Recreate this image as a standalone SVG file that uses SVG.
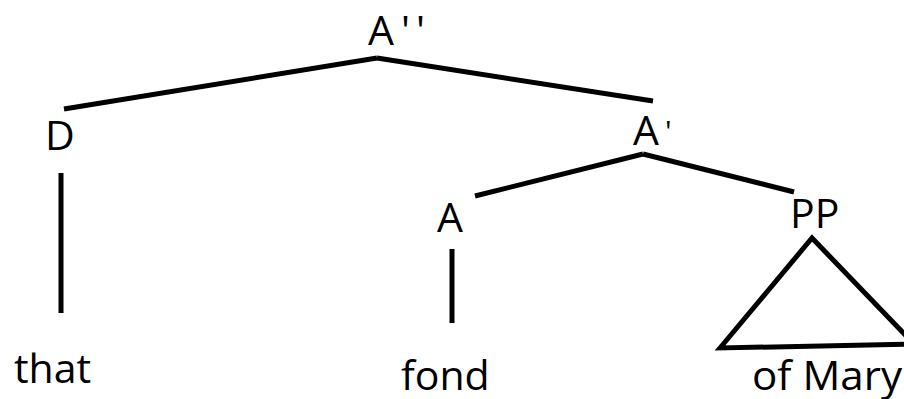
<svg xmlns="http://www.w3.org/2000/svg" width="904" height="399" viewBox="0 0 904 399">
<style>
.t{font-family:"Open Sans","Liberation Sans",sans-serif;font-size:41px;fill:#000}
.e{stroke:#000;stroke-width:5;fill:none;stroke-linecap:butt;stroke-linejoin:miter}
</style>
<rect width="904" height="399" fill="#fff"/>
<g id="connectors">
<line class="e" x1="64" y1="109" x2="377" y2="58"/>
<line class="e" x1="377" y1="58" x2="653" y2="101"/>
<line class="e" x1="61" y1="173" x2="61" y2="313"/>
<line class="e" x1="475" y1="196" x2="643" y2="154"/>
<line class="e" x1="643" y1="154" x2="794" y2="192"/>
<line class="e" x1="452" y1="249" x2="452" y2="323"/>
<path class="e" d="M720 348 L812 238 L914 344 Z"/>
</g>
<g id="n-App"><text class="t" x="368" y="45">A<tspan x="401" y="45">'</tspan><tspan x="416" y="45">'</tspan></text></g>
<g id="n-D"><text class="t" x="45" y="150">D</text></g>
<g id="n-Ap"><text class="t" x="633" y="145">A<tspan x="665" dy="-3" font-size="30">'</tspan></text></g>
<g id="n-A"><text class="t" x="437" y="232">A</text></g>
<g id="n-PP"><text class="t" x="790" y="228">PP</text></g>
<g id="n-that"><text class="t" x="14" y="383">that</text></g>
<g id="n-fond"><text class="t" x="401" y="390">fond</text></g>
<g id="n-ofMary"><text class="t" x="752" y="390" textLength="150" lengthAdjust="spacingAndGlyphs">of Mary</text></g>
</svg>
